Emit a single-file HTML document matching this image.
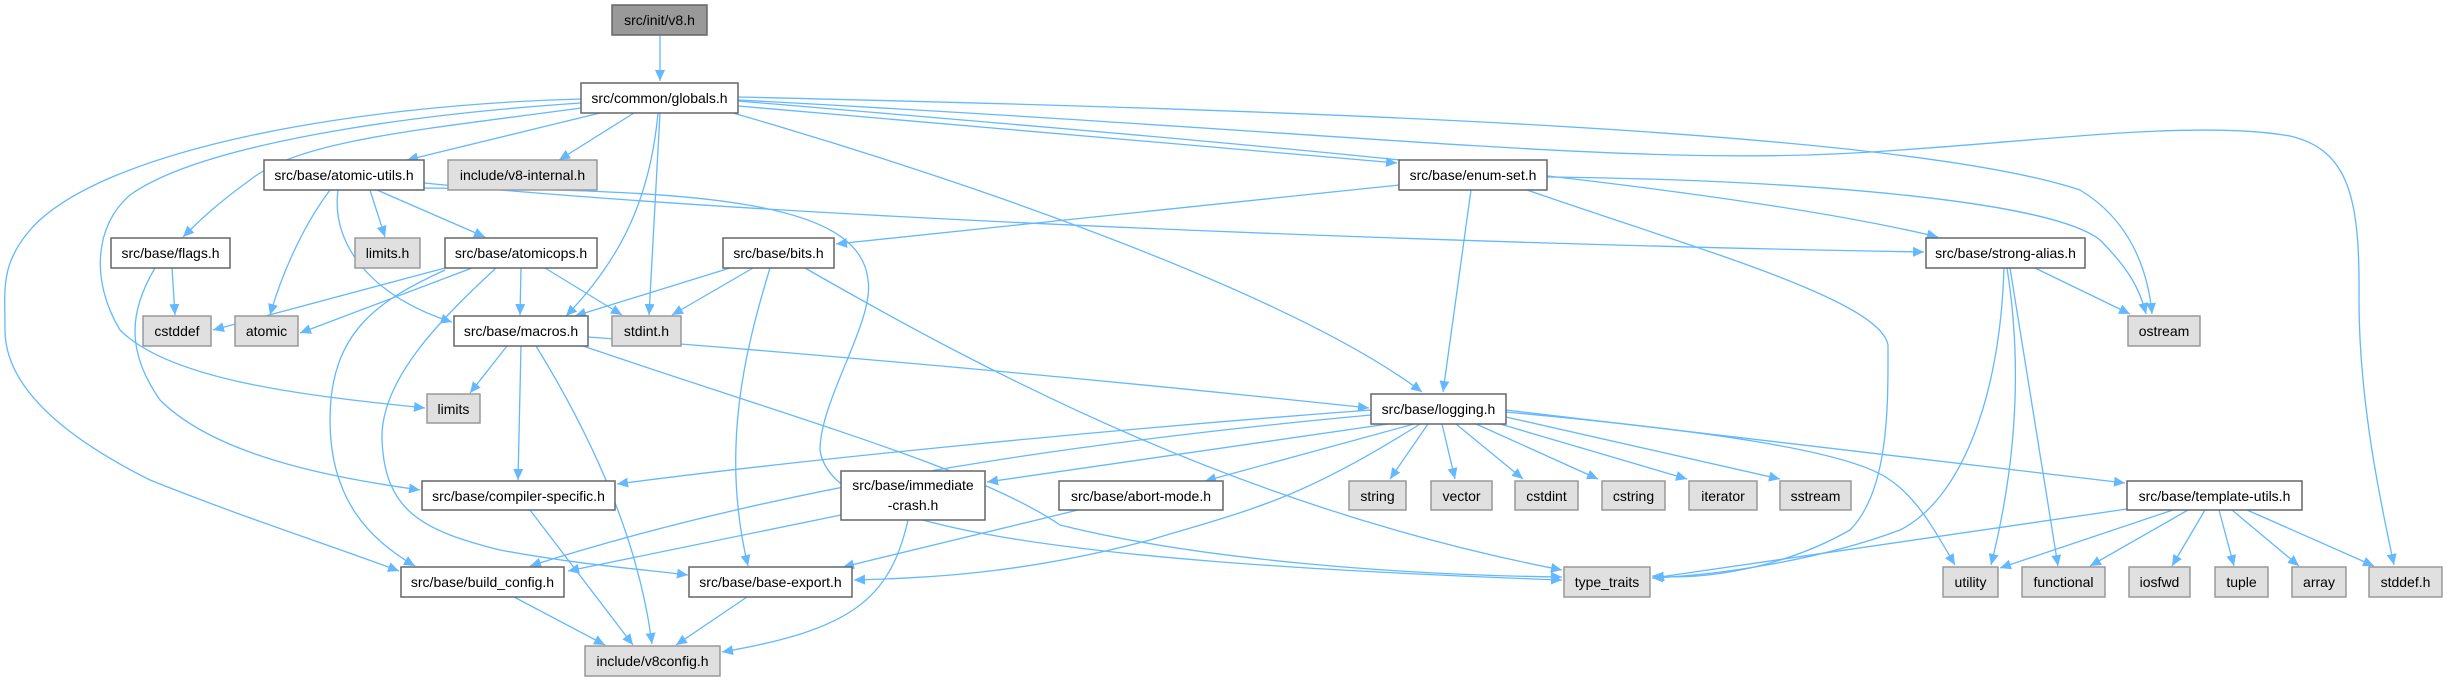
<!DOCTYPE html>
<html><head><meta charset="utf-8"><style>
html,body{margin:0;padding:0;background:#fff;}
svg{display:block;}
text{font-family:"Liberation Sans","DejaVu Sans",sans-serif;font-size:14px;fill:#000;text-anchor:middle;}
.e{fill:none;stroke:#63b8ff;stroke-width:1.3;marker-end:url(#a);}
.w{fill:#fff;stroke:#666;stroke-width:1.5;}
.g{fill:#e0e0e0;stroke:#999;stroke-width:1.5;}
.d{fill:#999;stroke:#666;stroke-width:1.5;}
</style></head><body>
<svg width="2447" height="681" viewBox="0 0 2447 681" xmlns="http://www.w3.org/2000/svg">
<defs><marker id="a" markerWidth="12" markerHeight="10" refX="11" refY="5" orient="auto" markerUnits="userSpaceOnUse"><path d="M0,0 L11,5 L0,10 z" fill="#63b8ff"/></marker></defs>
<g>
<path class="e" d="M660 35 L660 81"/>
<path class="e" d="M600 113 L407 160"/>
<path class="e" d="M634 113 L559 160"/>
<path class="e" d="M581 108 C420 130 300 140 250 180 C215 205 195 225 183 237"/>
<path class="e" d="M581 103 C400 115 200 145 130 195 C95 225 90 280 120 330 C170 380 300 395 425 408"/>
<path class="e" d="M581 99 C350 105 100 150 30 230 C0 265 5 290 5 330 C5 380 50 430 150 480 C250 520 330 545 399 571"/>
<path class="e" d="M658 113 C650 200 620 260 566 316"/>
<path class="e" d="M660 113 L649 315"/>
<path class="e" d="M733 113 C1000 190 1300 300 1422 392"/>
<path class="e" d="M738 106 L1397 163"/>
<path class="e" d="M738 101 C1200 140 1700 180 1938 237"/>
<path class="e" d="M738 97 C1300 110 1900 130 2080 190 C2130 220 2148 270 2152 314"/>
<path class="e" d="M738 100 C1400 135 1650 170 1900 150 C2050 140 2200 120 2290 136 C2350 150 2360 200 2359 300 C2359 400 2380 500 2394 565"/>
<path class="e" d="M370 190 L385 237"/>
<path class="e" d="M377 190 L485 237"/>
<path class="e" d="M330 190 C300 230 280 280 270 315"/>
<path class="e" d="M338 190 C330 250 380 300 452 322"/>
<path class="e" d="M424 183 C800 220 1500 245 1924 252"/>
<path class="e" d="M424 188 C700 190 860 200 868 280 C875 320 820 400 820 450 C830 520 1000 560 1562 580"/>
<path class="e" d="M172 268 L175 315"/>
<path class="e" d="M155 268 C130 310 125 350 160 400 C220 460 350 480 420 490"/>
<path class="e" d="M445 268 L213 330"/>
<path class="e" d="M472 268 L300 333"/>
<path class="e" d="M521 268 L520 315"/>
<path class="e" d="M545 268 L622 315"/>
<path class="e" d="M445 270 C380 300 330 330 330 420 C330 500 370 540 415 566"/>
<path class="e" d="M496 268 C440 320 380 380 382 440 C385 510 420 530 500 550 C580 565 650 570 688 575"/>
<path class="e" d="M730 268 L575 316"/>
<path class="e" d="M753 268 L672 315"/>
<path class="e" d="M770 268 C745 350 720 450 748 566"/>
<path class="e" d="M805 268 C1000 380 1250 510 1562 570"/>
<path class="e" d="M507 346 L470 393"/>
<path class="e" d="M521 346 L518 480"/>
<path class="e" d="M536 346 C600 450 640 550 652 644"/>
<path class="e" d="M588 337 C900 360 1200 390 1369 408"/>
<path class="e" d="M583 346 C800 420 980 470 1060 525 C1200 560 1400 575 1562 577"/>
<path class="e" d="M530 510 L633 645"/>
<path class="e" d="M514 597 L605 645"/>
<path class="e" d="M747 597 L676 645"/>
<path class="e" d="M1399 185 L836 244"/>
<path class="e" d="M1471 190 L1443 392"/>
<path class="e" d="M1547 177 C1800 180 2050 200 2100 240 C2130 270 2140 290 2146 314"/>
<path class="e" d="M1527 190 C1700 250 1880 300 1888 345 C1888 400 1890 490 1850 530 C1780 570 1700 580 1652 576"/>
<path class="e" d="M2035 268 L2130 314"/>
<path class="e" d="M2004 268 C2000 400 1960 500 1900 530 C1820 560 1720 575 1652 578"/>
<path class="e" d="M2007 268 C2020 350 2020 450 1991 565"/>
<path class="e" d="M2010 268 L2058 566"/>
<path class="e" d="M1371 410 C1100 430 800 460 617 484"/>
<path class="e" d="M1371 415 C1100 440 800 480 530 566"/>
<path class="e" d="M1388 424 L987 482"/>
<path class="e" d="M1414 424 L1205 481"/>
<path class="e" d="M1420 424 C1300 500 1250 510 1150 540 C1020 575 920 578 854 580"/>
<path class="e" d="M1428 424 L1390 479"/>
<path class="e" d="M1442 424 L1455 479"/>
<path class="e" d="M1456 424 L1523 479"/>
<path class="e" d="M1476 424 L1598 479"/>
<path class="e" d="M1500 424 L1687 479"/>
<path class="e" d="M1506 417 L1780 479"/>
<path class="e" d="M1506 412 C1700 430 1850 450 1890 480 C1920 500 1940 540 1955 565"/>
<path class="e" d="M1506 410 L2125 483"/>
<path class="e" d="M841 515 L568 571"/>
<path class="e" d="M908 520 C890 600 850 630 722 652"/>
<path class="e" d="M1078 510 L843 567"/>
<path class="e" d="M2127 509 L1653 578"/>
<path class="e" d="M2173 510 L2000 568"/>
<path class="e" d="M2188 510 L2090 566"/>
<path class="e" d="M2205 510 L2172 566"/>
<path class="e" d="M2219 510 L2234 566"/>
<path class="e" d="M2232 510 L2299 566"/>
<path class="e" d="M2247 510 L2374 566"/>
</g>
<g>
<rect class="d" x="612" y="5" width="95" height="30"/><text x="659.5" y="25">src/init/v8.h</text>
<rect class="w" x="581" y="83" width="157" height="30"/><text x="659.5" y="103">src/common/globals.h</text>
<rect class="w" x="264" y="160" width="160" height="30"/><text x="344" y="180">src/base/atomic-utils.h</text>
<rect class="g" x="448" y="160" width="149" height="30"/><text x="522.5" y="180">include/v8-internal.h</text>
<rect class="w" x="1399" y="160" width="148" height="30"/><text x="1473" y="180">src/base/enum-set.h</text>
<rect class="w" x="111" y="238" width="119" height="30"/><text x="170.5" y="258">src/base/flags.h</text>
<rect class="g" x="355" y="238" width="65" height="30"/><text x="387.5" y="258">limits.h</text>
<rect class="w" x="445" y="238" width="152" height="30"/><text x="521" y="258">src/base/atomicops.h</text>
<rect class="w" x="723" y="238" width="111" height="30"/><text x="778.5" y="258">src/base/bits.h</text>
<rect class="w" x="1926" y="238" width="159" height="30"/><text x="2005.5" y="258">src/base/strong-alias.h</text>
<rect class="g" x="143" y="316" width="68" height="30"/><text x="177" y="336">cstddef</text>
<rect class="g" x="235" y="316" width="63" height="30"/><text x="266.5" y="336">atomic</text>
<rect class="w" x="454" y="316" width="134" height="30"/><text x="521" y="336">src/base/macros.h</text>
<rect class="g" x="612" y="316" width="69" height="30"/><text x="646.5" y="336">stdint.h</text>
<rect class="g" x="2128" y="316" width="72" height="30"/><text x="2164" y="336">ostream</text>
<rect class="g" x="427" y="394" width="53" height="29"/><text x="453.5" y="414">limits</text>
<rect class="w" x="1371" y="394" width="135" height="30"/><text x="1438.5" y="414">src/base/logging.h</text>
<rect class="w" x="422" y="481" width="193" height="29"/><text x="518.5" y="501">src/base/compiler-specific.h</text>
<rect class="w" x="841" y="471" width="144" height="49"/><text x="913" y="490">src/base/immediate</text><text x="913" y="510">-crash.h</text>
<rect class="w" x="1059" y="481" width="164" height="29"/><text x="1141" y="501">src/base/abort-mode.h</text>
<rect class="g" x="1349" y="481" width="57" height="29"/><text x="1377.5" y="501">string</text>
<rect class="g" x="1431" y="481" width="61" height="29"/><text x="1461.5" y="501">vector</text>
<rect class="g" x="1515" y="481" width="63" height="29"/><text x="1546.5" y="501">cstdint</text>
<rect class="g" x="1602" y="481" width="63" height="29"/><text x="1633.5" y="501">cstring</text>
<rect class="g" x="1689" y="481" width="68" height="29"/><text x="1723" y="501">iterator</text>
<rect class="g" x="1780" y="481" width="71" height="29"/><text x="1815.5" y="501">sstream</text>
<rect class="w" x="2127" y="481" width="175" height="29"/><text x="2214.5" y="501">src/base/template-utils.h</text>
<rect class="w" x="401" y="567" width="163" height="30"/><text x="482.5" y="587">src/base/build_config.h</text>
<rect class="w" x="689" y="567" width="163" height="30"/><text x="770.5" y="587">src/base/base-export.h</text>
<rect class="g" x="1564" y="567" width="86" height="30"/><text x="1607" y="587">type_traits</text>
<rect class="g" x="1943" y="567" width="55" height="30"/><text x="1970.5" y="587">utility</text>
<rect class="g" x="2022" y="567" width="83" height="30"/><text x="2063.5" y="587">functional</text>
<rect class="g" x="2129" y="567" width="61" height="30"/><text x="2159.5" y="587">iosfwd</text>
<rect class="g" x="2215" y="567" width="53" height="30"/><text x="2241.5" y="587">tuple</text>
<rect class="g" x="2292" y="567" width="54" height="30"/><text x="2319" y="587">array</text>
<rect class="g" x="2369" y="567" width="73" height="30"/><text x="2405.5" y="587">stddef.h</text>
<rect class="g" x="585" y="646" width="135" height="30"/><text x="652.5" y="666">include/v8config.h</text>
</g>
</svg>
</body></html>
